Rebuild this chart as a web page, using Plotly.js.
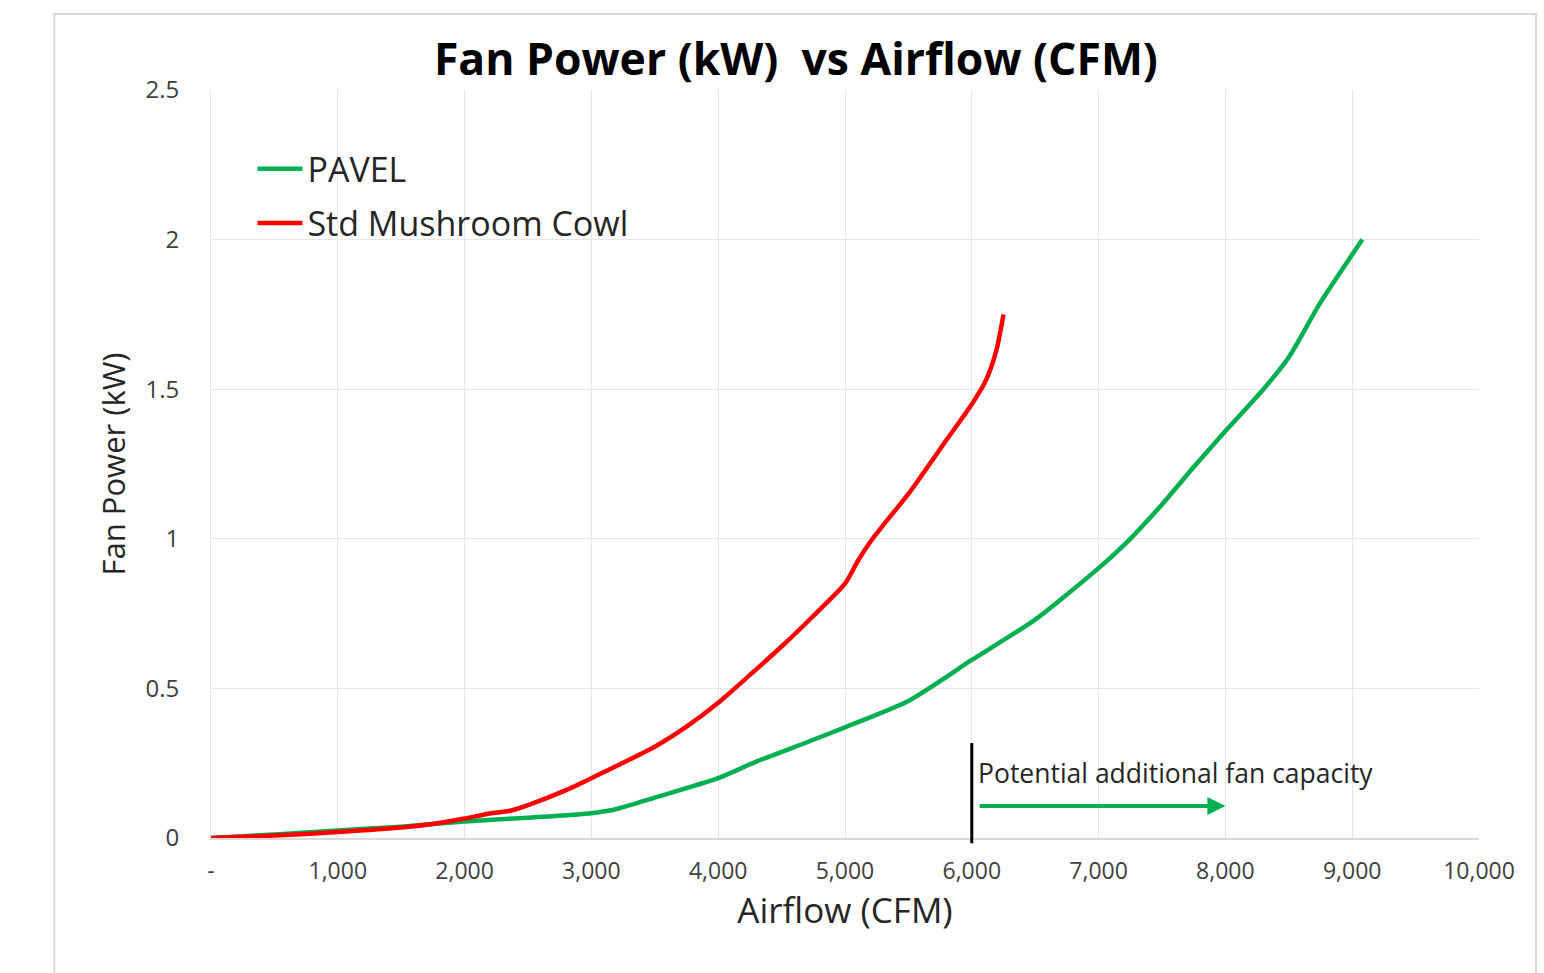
<!DOCTYPE html>
<html>
<head>
<meta charset="utf-8">
<script src="https://cdn.plot.ly/plotly-3.0.1.min.js"></script>
<style>html,body{margin:0;padding:0;background:#fff;}#chart{width:1544px;height:973px;}</style>
</head>
<body>
<div id="chart"></div>
<script>
// ---- data ----
const pavelX = [0, 500, 1000, 1500, 2000, 2500, 3000, 3200, 3500, 4000, 4300, 4700, 5000, 5500, 6000, 6500, 7000, 7250, 7500, 7750, 8000, 8300, 8500, 8750, 9080];
const pavelY = [0, 0.012, 0.025, 0.038, 0.055, 0.068, 0.083, 0.097, 0.135, 0.2, 0.255, 0.32, 0.37, 0.458, 0.595, 0.73, 0.902, 1.0, 1.115, 1.24, 1.36, 1.5, 1.607, 1.79, 2.0];
const cowlX = [0, 500, 1000, 1500, 1800, 2000, 2200, 2350, 2500, 2800, 3000, 3500, 3750, 4000, 4250, 4500, 4750, 5000, 5100, 5200, 5300, 5500, 5800, 6000, 6100, 6150, 6200, 6250];
const cowlY = [0, 0.008, 0.02, 0.035, 0.05, 0.065, 0.082, 0.09, 0.11, 0.16, 0.2, 0.305, 0.372, 0.452, 0.545, 0.64, 0.742, 0.85, 0.925, 0.99, 1.045, 1.15, 1.33, 1.45, 1.52, 1.57, 1.64, 1.75];
const xTickVals = [0, 1000, 2000, 3000, 4000, 5000, 6000, 7000, 8000, 9000, 10000];
const xTickText = ['-', '1,000', '2,000', '3,000', '4,000', '5,000', '6,000', '7,000', '8,000', '9,000', '10,000'];
const yTickVals = [0, 0.5, 1, 1.5, 2, 2.5];
const yTickText = ['0', '0.5', '1', '1.5', '2', '2.5'];
const seriesNames = ['PAVEL', 'Std Mushroom Cowl'];
const capacityLineX = 6000;
const capacityArrowFrom = 6050;
const capacityArrowTo = 8000;
const capacityLabel = 'Potential additional fan capacity';

const FONT = '"Open Sans", "Noto Sans", sans-serif';

const traces = [
  {x: pavelX, y: pavelY, name: seriesNames[0], type: 'scatter', mode: 'lines', legendgroup: 'g1',
   line: {color: '#00B050', width: 4.5, shape: 'spline', smoothing: 0.6}},
  {x: cowlX, y: cowlY, name: seriesNames[1], type: 'scatter', mode: 'lines', legendgroup: 'g2',
   line: {color: '#FF0000', width: 4.5, shape: 'spline', smoothing: 0.6}}
];

const layout = {
  width: 1544, height: 973,
  margin: {l: 211, r: 65, t: 90, b: 135},
  paper_bgcolor: '#ffffff', plot_bgcolor: '#ffffff',
  font: {family: FONT, color: '#404040'},
  title: {text: 'Fan Power (kW)\u00A0 vs Airflow (CFM)', font: {family: FONT, size: 44.5, color: '#000000', weight: 'bold'},
          x: 0.5155, xref: 'container', xanchor: 'center', y: 0.9393, yref: 'container', yanchor: 'middle'},
  showlegend: true,
  legend: {x: 0.0327, xanchor: 'left', y: 0.933, yanchor: 'top', bgcolor: 'rgba(0,0,0,0)',
           font: {family: FONT, size: 34, color: '#262626'}, traceorder: 'grouped', tracegroupgap: 7, itemwidth: 45},
  xaxis: {range: [0, 10000], tickvals: xTickVals, ticktext: xTickText, showgrid: true, gridcolor: '#e6e6e6', gridwidth: 1,
          zeroline: false, showline: true, linecolor: '#d9d9d9', linewidth: 1.5, ticks: '', ticklabelstandoff: 12,
          tickfont: {family: FONT, size: 23, color: '#404040'}, fixedrange: true,
          title: {text: 'Airflow (CFM)', font: {family: FONT, size: 35, color: '#262626'}, standoff: 10}},
  yaxis: {range: [0, 2.5], tickvals: yTickVals, ticktext: yTickText, showgrid: true, gridcolor: '#e6e6e6', gridwidth: 1,
          zeroline: false, showline: true, linecolor: '#e6e6e6', ticks: '', ticklabelstandoff: 26,
          tickfont: {family: FONT, size: 24, color: '#404040'}, fixedrange: true,
          title: {text: 'Fan Power (kW)', font: {family: FONT, size: 31, color: '#262626'}, standoff: 10}},
  shapes: [
    {type: 'rect', xref: 'paper', yref: 'paper', x0: -0.1235, x1: 1.045, y0: -0.25, y1: 1.1016,
     line: {color: '#d9d9d9', width: 2}, fillcolor: 'rgba(0,0,0,0)', layer: 'below'},
    {type: 'line', xref: 'x', yref: 'paper', x0: capacityLineX, x1: capacityLineX, y0: -0.007, y1: 0.127,
     line: {color: '#000000', width: 3}}
  ],
  annotations: [
    {x: 6030, y: 0.217, xref: 'x', yref: 'y', text: capacityLabel, showarrow: false, xanchor: 'left', yanchor: 'middle',
     font: {family: FONT, size: 26.5, color: '#262626'}},
    {x: capacityArrowTo, y: 0.107, xref: 'x', yref: 'y', ax: capacityArrowFrom, ay: 0.107, axref: 'x', ayref: 'y',
     text: '', showarrow: true, arrowhead: 2, arrowsize: 0.9, arrowwidth: 4, arrowcolor: '#00B050'}
  ]
};

Plotly.newPlot('chart', traces, layout, {displayModeBar: false, staticPlot: true});
</script>
</body>
</html>
